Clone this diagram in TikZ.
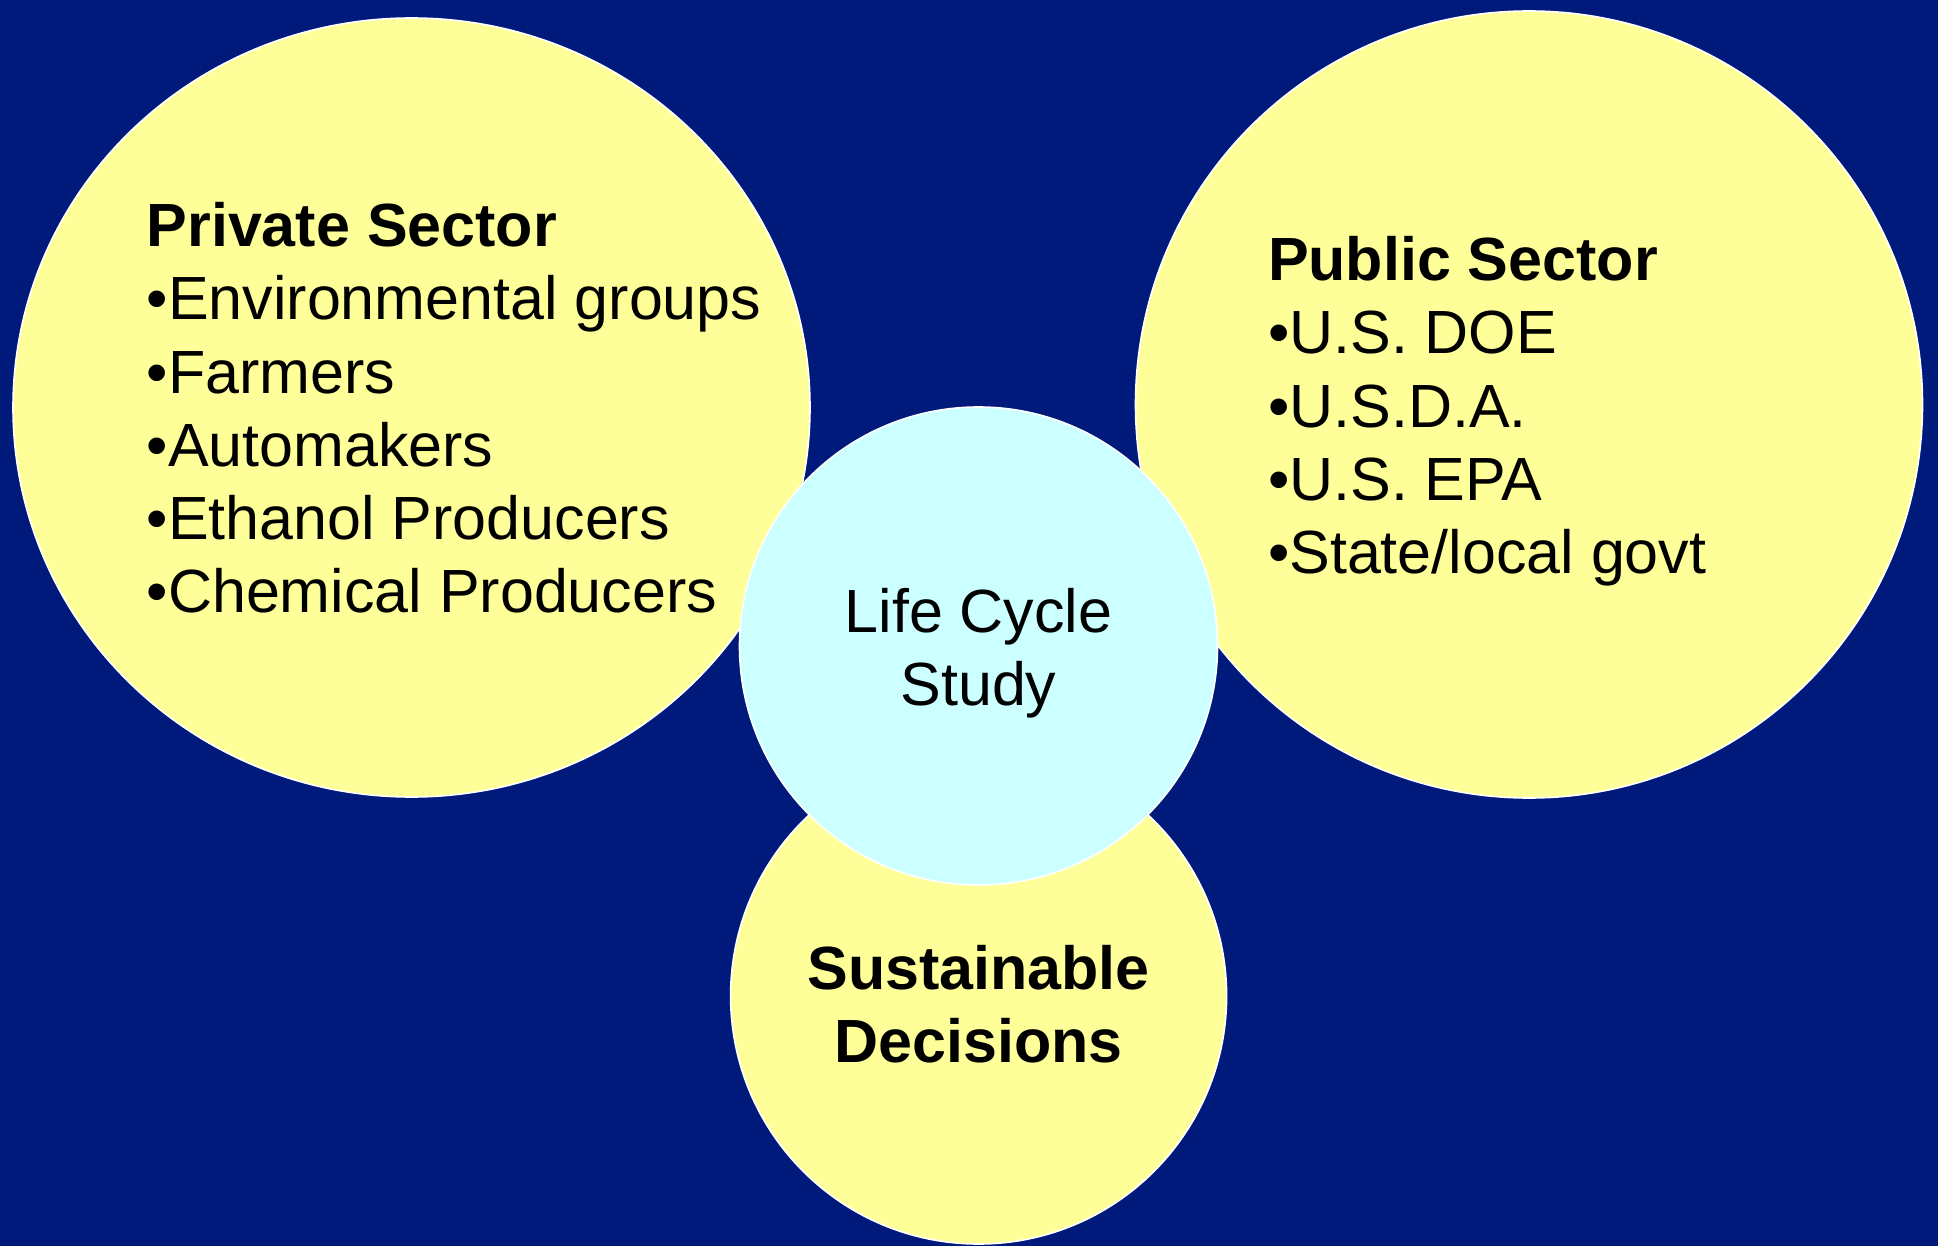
\documentclass[tikz,border=0pt]{standalone}
\usepackage{fontspec}
\setmainfont{Liberation Sans}
\usetikzlibrary{shapes.geometric}
\definecolor{navybg}{RGB}{0,26,124}
\definecolor{paleyellow}{RGB}{255,255,153}
\definecolor{palecyan}{RGB}{204,255,255}
\tikzset{
  bubble/.style={draw=white, line width=1.6pt, inner sep=0pt, outer sep=0pt},
  yellowbubble/.style={bubble, fill=paleyellow},
  cyanbubble/.style={bubble, fill=palecyan},
  txt/.style={inner sep=0pt, outer sep=0pt, text=black, font=\fontsize{61}{73}\selectfont},
  boldtxt/.style={txt, font=\fontsize{61}{73}\selectfont\bfseries},
  leftline/.style={txt, anchor=base west},
  midline/.style={txt, anchor=base},
}
\begin{document}
\begin{tikzpicture}[x=1pt,y=-1pt]
\fill[navybg] (0,0) rectangle (1938,1246);
\useasboundingbox (0,0) rectangle (1938,1246);

% circles
\node[yellowbubble, ellipse, minimum width=797pt, minimum height=779pt] (private) at (411.5,407.5) {};
\node[yellowbubble, circle, minimum size=787pt] (public) at (1529,404.5) {};
\node[yellowbubble, circle, minimum size=496pt] (decisions) at (978.6,996) {};
\node[cyanbubble, circle, minimum size=478pt] (study) at (978.5,646) {};

% private sector text
\node[leftline, boldtxt, anchor=base west] (privh) at (146.7,247) {Private Sector};
\node[leftline] (priv1) at (146.7,320) {•Environmental groups};
\node[leftline] (priv2) at (146.7,393) {•Farmers};
\node[leftline] (priv3) at (146.7,466) {•Automakers};
\node[leftline] (priv4) at (146.7,539) {•Ethanol Producers};
\node[leftline] (priv5) at (146.7,612) {•Chemical Producers};

% public sector text
\node[leftline, boldtxt, anchor=base west] (pubh) at (1268,280.3) {Public Sector};
\node[leftline] (pub1) at (1268,353.5) {•U.S. DOE};
\node[leftline] (pub2) at (1268,427) {•U.S.D.A.};
\node[leftline] (pub3) at (1268,500.5) {•U.S. EPA};
\node[leftline] (pub4) at (1268,573.8) {•State/local govt};

% life cycle study
\node[midline] (lc1) at (978.5,632.3) {Life Cycle};
\node[midline] (lc2) at (978.5,705.7) {Study};

% sustainable decisions
\node[midline, boldtxt, anchor=base] (sd1) at (978.6,989) {Sustainable};
\node[midline, boldtxt, anchor=base] (sd2) at (978.6,1062.7) {Decisions};
\end{tikzpicture}
\end{document}
